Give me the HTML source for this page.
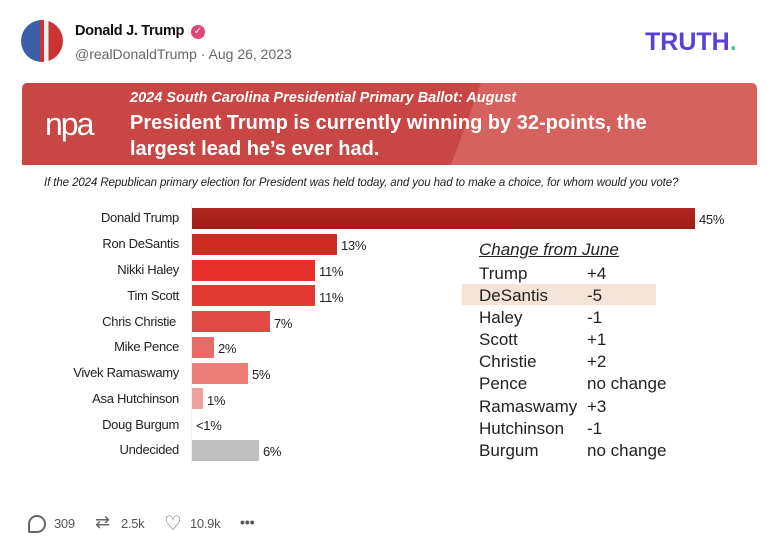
<!DOCTYPE html>
<html><head><meta charset="utf-8"><style>
body{margin:0;width:778px;height:555px;background:#fff;font-family:"Liberation Sans",sans-serif;position:relative;overflow:hidden}
.a{position:absolute;white-space:nowrap}
.bar{position:absolute;left:192px;height:21px}
.lbl{position:absolute;right:599px;font-size:13px;color:#222;white-space:nowrap;letter-spacing:-0.3px}
.pct{position:absolute;font-size:13px;color:#222;letter-spacing:-0.3px}
.t{position:absolute;font-size:17px;color:#222;white-space:nowrap}
</style></head><body>
<div class="a" style="left:21px;top:20px;width:42px;height:42px;border-radius:50%;background:linear-gradient(90deg,#3b5fa8 0 45%,#c33 45% 55%,#eee 55% 65%,#c33 65%)"></div>
<div class="a" style="left:75px;top:23px;font-size:14.5px;font-weight:bold;color:#111;letter-spacing:-0.3px">Donald J. Trump</div>
<div class="a" style="left:191px;top:25px;width:14px;height:14px;border-radius:50%;background:#e0457b;color:#fff;font-size:10px;text-align:center;line-height:14px">✓</div>
<div class="a" style="left:75px;top:46px;font-size:14px;color:#666">@realDonaldTrump · Aug 26, 2023</div>
<div class="a" style="left:645px;top:28px;font-size:25px;font-weight:900;color:#5b3fd6">TRUTH<span style="color:#3fc7a8">.</span></div>
<div class="a" style="left:22px;top:83px;width:735px;height:82px;background:linear-gradient(110deg,#c84644 0 60%,#d6625e 60%);border-radius:5px 5px 0 0"></div>
<div class="a" style="left:45px;top:106px;font-size:32px;color:#fff;font-weight:300;letter-spacing:-2px">npa</div>
<div class="a" style="left:130px;top:90px;font-size:14.5px;font-weight:bold;font-style:italic;color:#fff">2024 South Carolina Presidential Primary Ballot: August</div>
<div class="a" style="left:130px;top:110px;font-size:20px;font-weight:bold;color:#fff;line-height:26px">President Trump is currently winning by 32-points, the<br>largest lead he’s ever had.</div>
<div class="a" style="left:44px;top:177px;font-size:11.5px;font-style:italic;color:#222;letter-spacing:-0.1px">If the 2024 Republican primary election for President was held today, and you had to make a choice, for whom would you vote?</div>
<div class="a" style="left:191px;top:203px;width:1px;height:260px;background:#eee"></div>

<div class="bar" style="top:208px;width:503px;background:linear-gradient(#b3261f,#a01c16)"></div><div class="lbl" style="top:210px">Donald Trump</div><div class="pct" style="left:699px;top:212px">45%</div>
<div class="bar" style="top:234px;width:145px;background:#cd2a22"></div><div class="lbl" style="top:236px">Ron DeSantis</div><div class="pct" style="left:341px;top:238px">13%</div>
<div class="bar" style="top:260px;width:123px;background:#e5302a"></div><div class="lbl" style="top:262px">Nikki Haley</div><div class="pct" style="left:319px;top:264px">11%</div>
<div class="bar" style="top:285px;width:123px;background:#e03a33"></div><div class="lbl" style="top:288px">Tim Scott</div><div class="pct" style="left:319px;top:290px">11%</div>
<div class="bar" style="top:311px;width:78px;background:#e04a45"></div><div class="lbl" style="top:314px;right:602px">Chris Christie</div><div class="pct" style="left:274px;top:316px">7%</div>
<div class="bar" style="top:337px;width:22px;background:#e86a66"></div><div class="lbl" style="top:339px">Mike Pence</div><div class="pct" style="left:218px;top:341px">2%</div>
<div class="bar" style="top:363px;width:56px;background:#ec7c78"></div><div class="lbl" style="top:365px">Vivek Ramaswamy</div><div class="pct" style="left:252px;top:367px">5%</div>
<div class="bar" style="top:388px;width:11px;background:#f1a19d"></div><div class="lbl" style="top:391px">Asa Hutchinson</div><div class="pct" style="left:207px;top:393px">1%</div>
<div class="lbl" style="top:417px">Doug Burgum</div><div class="pct" style="left:196px;top:418px">&lt;1%</div>
<div class="bar" style="top:440px;width:67px;background:#bfbfbf"></div><div class="lbl" style="top:442px">Undecided</div><div class="pct" style="left:263px;top:444px">6%</div>

<div class="a" style="left:462px;top:284px;width:194px;height:21px;background:#f6e4d8"></div>
<div class="t" style="left:479px;top:240px;font-style:italic;text-decoration:underline">Change from June</div>
<div class="t" style="left:479px;top:264px">Trump</div><div class="t" style="left:587px;top:264px">+4</div>
<div class="t" style="left:479px;top:286px">DeSantis</div><div class="t" style="left:587px;top:286px">-5</div>
<div class="t" style="left:479px;top:308px">Haley</div><div class="t" style="left:587px;top:308px">-1</div>
<div class="t" style="left:479px;top:330px">Scott</div><div class="t" style="left:587px;top:330px">+1</div>
<div class="t" style="left:479px;top:352px">Christie</div><div class="t" style="left:587px;top:352px">+2</div>
<div class="t" style="left:479px;top:374px">Pence</div><div class="t" style="left:587px;top:374px">no change</div>
<div class="t" style="left:479px;top:397px">Ramaswamy</div><div class="t" style="left:587px;top:397px">+3</div>
<div class="t" style="left:479px;top:419px">Hutchinson</div><div class="t" style="left:587px;top:419px">-1</div>
<div class="t" style="left:479px;top:441px">Burgum</div><div class="t" style="left:587px;top:441px">no change</div>

<div class="a" style="left:28px;top:515px;width:14px;height:14px;border:2px solid #666;border-radius:50% 50% 50% 2px"></div>
<div class="a" style="left:54px;top:516px;font-size:13px;color:#555;letter-spacing:-0.3px">309</div>
<div class="a" style="left:95px;top:512px;font-size:18px;color:#666">⇄</div>
<div class="a" style="left:121px;top:516px;font-size:13px;color:#555;letter-spacing:-0.3px">2.5k</div>
<div class="a" style="left:164px;top:511px;font-size:20px;color:#666">♡</div>
<div class="a" style="left:190px;top:516px;font-size:13px;color:#555;letter-spacing:-0.3px">10.9k</div>
<div class="a" style="left:240px;top:514px;font-size:14px;color:#555;font-weight:bold">•••</div>
</body></html>
